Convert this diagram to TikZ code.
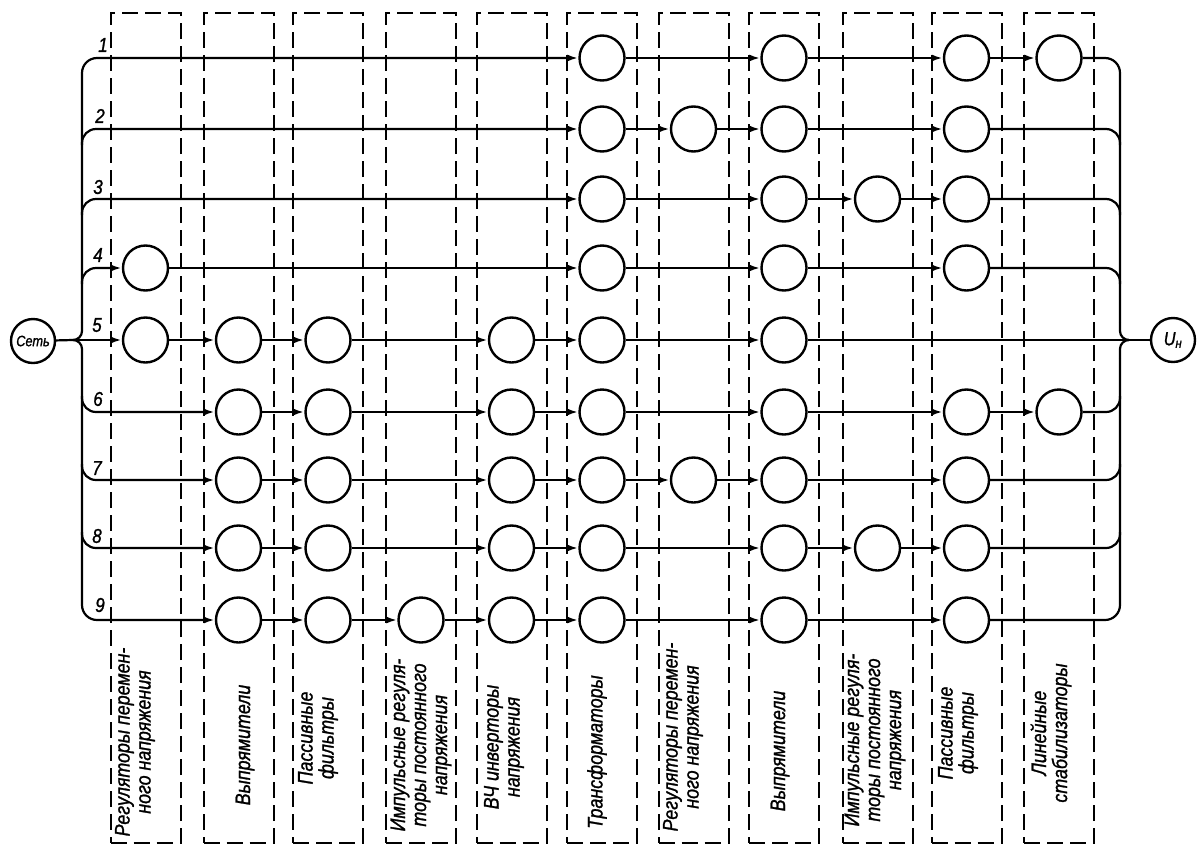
\documentclass[tikz,border=0pt]{standalone}
\usepackage{fontspec}
\setmainfont{Liberation Sans}[FakeStretch=0.85, FakeBold=1.2]
\usetikzlibrary{arrows.meta}
\begin{document}
\begin{tikzpicture}[x=1pt,y=-1pt,
  blk/.style={draw, circle, line width=2.4pt, minimum size=45pt, inner sep=0pt},
  conn/.style={line width=2.2pt, -{Latex[length=11pt,width=7pt]}},
  wire/.style={line width=2.2pt},
  colbox/.style={draw, line width=2pt, dash pattern=on 16pt off 7pt, minimum width=70pt, minimum height=830pt, inner sep=0pt},
  lab/.style={font=\fontsize{21}{21}\selectfont\itshape, align=center, rotate=90, inner sep=0pt},
  num/.style={font=\fontsize{20}{20}\selectfont\itshape, inner sep=0pt},
  term/.style={draw, circle, line width=2.4pt, minimum size=44pt, inner sep=0pt}
]
\useasboundingbox (0,0) rectangle (1201,846);

% column boxes
\foreach \c/\x in {1/145.5,2/238.5,3/328,4/421,5/511.5,6/602,7/693.5,8/784,9/877.5,10/966.5,11/1059}{
  \coordinate (col\c) at (\x,0);
  \node[colbox] (box\c) at (\x,428) {};
}
% rows
\foreach \r/\y in {1/58,2/129,3/199,4/268,5/340,6/412,7/480,8/548,9/620}{
  \coordinate (row\r) at (0,\y);
}

% blocks and connectors along each row
\foreach \r/\cols in {1/{6,8,10,11},2/{6,7,8,10},3/{6,8,9,10},4/{1,6,8,10},5/{1,2,3,5,6,8},6/{2,3,5,6,8,10,11},7/{2,3,5,6,7,8,10},8/{2,3,5,6,8,9,10},9/{2,3,4,5,6,8,10}}{
  \foreach \c [count=\i, remember=\c as \p] in \cols {
    \node[blk] (n\r-\c) at (col\c |- row\r) {};
    \ifnum\i>1 \draw[conn] (n\r-\p.east) -- (n\r-\c.west);\fi
  }
}

% terminals
\node[term] (set) at (33,341) {\fontsize{15}{15}\selectfont\itshape Сеть};
\node[term] (un) at (1173,340) {\fontsize{19}{19}\selectfont\itshape U\textsubscript{н}};

% junction and bus coordinates
\coordinate (JL) at (73,340);
\coordinate (JR) at (1129,340);
\coordinate (BLa) at (82,322);
\coordinate (BLb) at (82,358);
\coordinate (BRa) at (1120,322);
\coordinate (BRb) at (1120,358);
\coordinate (BL2) at (82,145);
\coordinate (BL3) at (82,215);
\coordinate (BL4) at (82,284);
\coordinate (BL6) at (82,396);
\coordinate (BL7) at (82,464);
\coordinate (BL8) at (82,532);
\coordinate (BR2) at (1120,145);
\coordinate (BR3) at (1120,215);
\coordinate (BR4) at (1120,284);
\coordinate (BR6) at (1120,396);
\coordinate (BR7) at (1120,464);
\coordinate (BR8) at (1120,532);

% left side
\draw[wire] (set) -- (JL);
\draw[conn] (JL) -- (n5-1.west);
\draw[wire, rounded corners=9pt] (JL) -| (BLa);
\draw[wire, rounded corners=9pt] (JL) -| (BLb);
\draw[conn, rounded corners=15pt] (BLa) |- (n1-6.west);
\draw[conn, rounded corners=15pt] (BLb) |- (n9-2.west);
\draw[conn, rounded corners=14pt] (BL2) |- (n2-6.west);
\draw[conn, rounded corners=14pt] (BL3) |- (n3-6.west);
\draw[conn, rounded corners=14pt] (BL4) |- (n4-1.west);
\draw[conn, rounded corners=14pt] (BL6) |- (n6-2.west);
\draw[conn, rounded corners=14pt] (BL7) |- (n7-2.west);
\draw[conn, rounded corners=14pt] (BL8) |- (n8-2.west);

% right side
\draw[wire, rounded corners=9pt] (BRa) |- (JR);
\draw[wire, rounded corners=9pt] (BRb) |- (JR);
\draw[wire, rounded corners=15pt] (n1-11.east) -| (BRa);
\draw[wire, rounded corners=15pt] (n9-10.east) -| (BRb);
\draw[wire, rounded corners=14pt] (n2-10.east) -| (BR2);
\draw[wire, rounded corners=14pt] (n3-10.east) -| (BR3);
\draw[wire, rounded corners=14pt] (n4-10.east) -| (BR4);
\draw[wire, rounded corners=14pt] (n6-11.east) -| (BR6);
\draw[wire, rounded corners=14pt] (n7-10.east) -| (BR7);
\draw[wire, rounded corners=14pt] (n8-10.east) -| (BR8);
\draw[wire] (n5-8.east) -- (un.west);

% row numbers
\foreach \r/\x/\y in {1/103/45,2/100/116,3/98/187,4/98/255,5/97/325,6/98/399,7/97/468,8/97/536,9/100/605}{
  \node[num] (k\r) at (\x,\y) {\r};
}

% column labels
\node[lab] (L1) at (135,742) {Регуляторы перемен-\\ного напряжения};
\node[lab] (L2) at (245,745) {Выпрямители};
\node[lab] (L3) at (318,738) {Пассивные\\фильтры};
\node[lab] (L4) at (421,745) {Импульсные регуля-\\торы постоянного\\напряжения};
\node[lab] (L5) at (504,747) {ВЧ инверторы\\напряжения};
\node[lab] (L6) at (597,752) {Трансформаторы};
\node[lab] (L7) at (683,737) {Регуляторы перемен-\\ного напряжения};
\node[lab] (L8) at (780,751) {Выпрямители};
\node[lab] (L9) at (875,740) {Импульсные регуля-\\торы постоянного\\напряжения};
\node[lab] (L10) at (958,733) {Пассивные\\фильтры};
\node[lab] (L11) at (1051,733) {Линейные\\стабилизаторы};
\end{tikzpicture}
\end{document}
